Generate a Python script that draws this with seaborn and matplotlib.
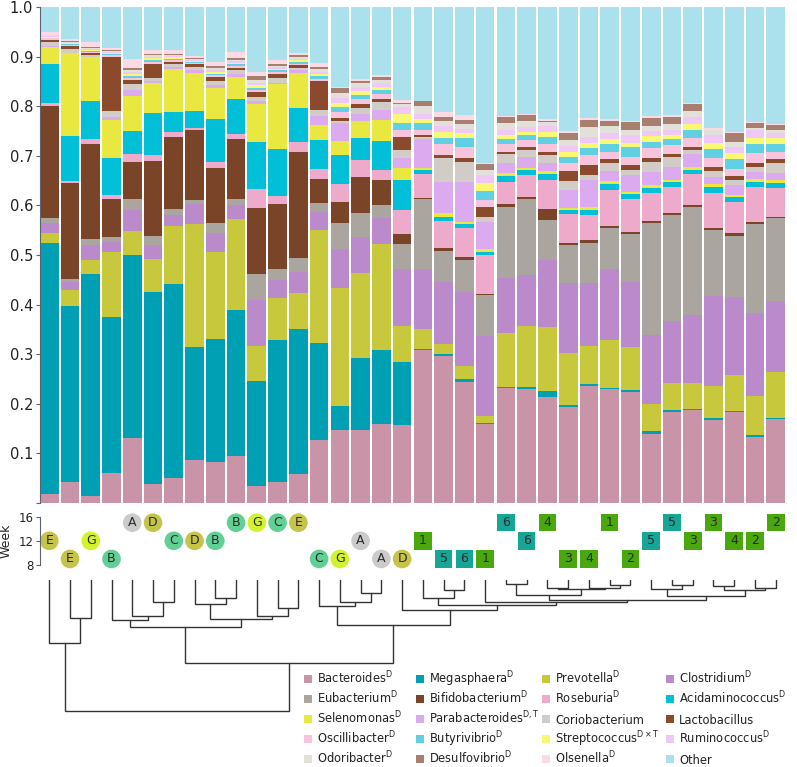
import matplotlib
matplotlib.use("Agg")
import matplotlib.pyplot as plt
import matplotlib.patches as mpatches
import numpy as np
import pandas as pd
import seaborn as sns

sns.set_theme(style="white")
plt.rcParams['font.family'] = ['DejaVu Sans']
plt.rcParams['mathtext.default'] = 'regular'

# ---- data ----
samples = ["S%02d" % (i + 1) for i in range(36)]

bacteroides = [.019,.042,.014,.061,.131,.039,.050,.087,.082,.095,.034,.042,.058,.127,.147,.147,.160,.157,.308,.296,.244,.159,.231,.229,.214,.194,.236,.229,.224,.140,.184,.187,.167,.183,.134,.169]
megasphaera = [.505,.355,.448,.313,.369,.387,.391,.228,.248,.295,.212,.286,.293,.195,.048,.145,.148,.128,.003,.004,.005,.003,.003,.004,.012,.003,.003,.003,.004,.005,.003,.003,.004,.002,.003,.003]
prevotella = [.020,.032,.028,.133,.048,.065,.118,.248,.177,.183,.070,.085,.072,.228,.239,.172,.215,.072,.040,.020,.027,.013,.108,.124,.128,.106,.078,.096,.086,.054,.054,.051,.065,.073,.079,.093]
clostridium = [.021,.017,.030,.019,.043,.029,.022,.039,.037,.027,.094,.036,.043,.037,.079,.073,.051,.114,.121,.126,.150,.161,.111,.102,.136,.141,.126,.143,.132,.140,.126,.138,.181,.158,.168,.143]
eubacterium = [.009,.005,.012,.010,.022,.018,.012,.009,.020,.013,.052,.022,.027,.018,.052,.047,.027,.052,.140,.062,.064,.083,.144,.153,.080,.076,.082,.083,.096,.225,.213,.218,.133,.122,.178,.166]
bifidobacterium = [.226,.195,.192,.076,.074,.151,.144,.141,.111,.121,.133,.132,.215,.048,.042,.074,.050,.020,.002,.007,.005,.003,.006,.005,.022,.005,.005,.004,.005,.004,.005,.003,.005,.006,.005,.003]
roseburia = [.007,.003,.009,.008,.017,.013,.010,.005,.013,.010,.038,.015,.020,.020,.037,.033,.020,.047,.050,.053,.059,.078,.045,.044,.059,.057,.050,.074,.065,.058,.053,.063,.071,.062,.071,.059]
acidaminococcus = [.078,.090,.078,.076,.047,.084,.041,.033,.086,.070,.094,.095,.068,.059,.058,.045,.059,.061,.007,.009,.008,.006,.011,.010,.012,.008,.010,.011,.010,.010,.010,.009,.012,.010,.010,.009]
selenomonas = [.034,.168,.088,.077,.069,.061,.087,.077,.062,.045,.078,.132,.070,.031,.028,.034,.043,.025,.005,.007,.005,.006,.007,.005,.006,.005,.007,.006,.005,.005,.004,.006,.005,.005,.006,.006]
parabacteroides = [.002,.001,.001,.005,.012,.004,.005,.006,.006,.005,.005,.002,.007,.017,.036,.015,.019,.019,.057,.064,.081,.055,.020,.022,.016,.037,.054,.021,.034,.027,.026,.025,.015,.020,.014,.015]
coriobacterium = [.008,.007,.004,.013,.013,.005,.005,.007,.008,.008,.008,.009,.004,.012,.005,.012,.016,.017,.004,.047,.040,.010,.017,.014,.017,.017,.010,.016,.010,.020,.019,.009,.012,.010,.010,.020]
lactobacillus = [.005,.006,.004,.109,.007,.030,.005,.006,.008,.006,.010,.009,.006,.058,.005,.007,.007,.026,.005,.006,.008,.019,.005,.005,.006,.021,.020,.007,.010,.007,.006,.006,.008,.008,.008,.007]
oscillibacter = [.003,.002,.002,.003,.004,.004,.003,.002,.004,.004,.005,.004,.003,.005,.013,.010,.010,.014,.011,.023,.022,.015,.016,.015,.015,.015,.020,.015,.017,.020,.019,.017,.017,.015,.019,.015]
butyrivibrio = [.001,.002,.002,.002,.004,.003,.003,.002,.003,.003,.004,.003,.004,.006,.009,.008,.007,.015,.014,.012,.017,.018,.009,.010,.014,.013,.014,.016,.020,.013,.011,.018,.018,.019,.019,.016]
streptococcus = [.002,.002,.002,.003,.005,.004,.003,.002,.004,.003,.005,.004,.003,.004,.008,.008,.006,.018,.008,.012,.010,.016,.009,.006,.010,.010,.011,.009,.008,.012,.009,.012,.013,.012,.011,.011]
ruminococcus = [.001,.001,.002,.002,.004,.003,.003,.002,.004,.003,.005,.003,.003,.004,.010,.008,.008,.014,.010,.012,.010,.016,.011,.010,.013,.012,.012,.013,.015,.009,.010,.014,.016,.013,.017,.011]
odoribacter = [.002,.002,.002,.002,.003,.003,.002,.002,.004,.003,.006,.003,.003,.005,.010,.008,.007,.005,.015,.010,.010,.010,.014,.012,.009,.012,.020,.014,.012,.011,.012,.011,.010,.010,.005,.007]
desulfovibrio = [.001,.001,.001,.001,.005,.002,.002,.002,.004,.003,.007,.003,.004,.006,.010,.005,.005,.002,.010,.008,.007,.012,.012,.013,.002,.014,.015,.011,.015,.016,.015,.014,.001,.018,.010,.010]
olsenella = [.006,.004,.011,.004,.018,.009,.008,.004,.009,.012,.008,.009,.005,.008,.002,.004,.005,.006,.001,.011,.010,.002,.001,.002,.004,.005,.004,.004,.002,.005,.003,.003,.004,.002,.002,.002]
other = [.050,.065,.070,.083,.105,.086,.086,.098,.110,.091,.132,.106,.092,.112,.162,.145,.137,.188,.189,.211,.218,.315,.220,.215,.225,.249,.223,.225,.230,.219,.218,.193,.243,.252,.231,.235]

taxa = ["Bacteroides", "Megasphaera", "Prevotella", "Clostridium", "Eubacterium",
        "Bifidobacterium", "Roseburia", "Acidaminococcus", "Selenomonas", "Parabacteroides",
        "Coriobacterium", "Lactobacillus", "Oscillibacter", "Butyrivibrio", "Streptococcus",
        "Ruminococcus", "Odoribacter", "Desulfovibrio", "Olsenella", "Other"]
marks = ["D", "D", "D", "D", "D", "D", "D", "D", "D", "D,T",
         "", "", "D", "D", r"D\times T", "D", "D", "D", "D", ""]
colors = ["#c994a8", "#00a0b4", "#c8c83c", "#bb8aca", "#aaa69f",
          "#7a4428", "#eeaacb", "#00bfd6", "#e8e840", "#dcaaee",
          "#d1cdc6", "#8a4a2b", "#f8c4dc", "#60d0e2", "#f8f872",
          "#f0c8f8", "#e3e0da", "#a87e6e", "#fbd9e5", "#abe0ed"]

# week markers under the bars
sample_group = ["E","E","G","B","A","D","C","D","B","B","G","C","E","C","G","A","A","D",
                "1","5","6","1","6","6","4","3","4","1","2","5","5","3","3","4","2","2"]
week_pos = [12,9,12,9,15,15,12,12,12,15,15,15,15,9,9,12,9,9,
            12,9,9,9,15,12,15,9,9,15,9,12,15,12,15,12,12,15]
group_colors = {"A": "#cbcbcb", "B": "#62cf95", "C": "#62cf95", "D": "#c4c44a",
                "E": "#c4c44a", "G": "#d2f22c", "1": "#4aa80e", "2": "#4aa80e",
                "3": "#4aa80e", "4": "#4aa80e", "5": "#17a596", "6": "#17a596"}

# dendrogram merges: (left, right, height); leaves 0..35, new nodes from 36
merges = [(1, 2, 38), (0, 36, 63), (5, 6, 22), (4, 38, 36), (3, 39, 40),
          (8, 9, 18), (7, 41, 24), (11, 12, 28), (10, 43, 36), (42, 44, 39),
          (40, 45, 47), (15, 16, 13), (14, 47, 22), (13, 48, 26), (19, 20, 10),
          (18, 50, 18), (22, 23, 4), (24, 25, 7.5), (27, 28, 5), (26, 54, 7.5),
          (53, 55, 9), (52, 56, 15), (30, 31, 5), (29, 58, 9), (32, 33, 6),
          (34, 35, 8), (60, 61, 10), (59, 62, 16), (57, 63, 20), (21, 64, 22),
          (51, 65, 25), (17, 66, 30), (49, 67, 45), (46, 68, 83), (37, 69, 131)]

abund = pd.DataFrame({
    "Bacteroides": bacteroides, "Megasphaera": megasphaera, "Prevotella": prevotella,
    "Clostridium": clostridium, "Eubacterium": eubacterium, "Bifidobacterium": bifidobacterium,
    "Roseburia": roseburia, "Acidaminococcus": acidaminococcus, "Selenomonas": selenomonas,
    "Parabacteroides": parabacteroides, "Coriobacterium": coriobacterium,
    "Lactobacillus": lactobacillus, "Oscillibacter": oscillibacter, "Butyrivibrio": butyrivibrio,
    "Streptococcus": streptococcus, "Ruminococcus": ruminococcus, "Odoribacter": odoribacter,
    "Desulfovibrio": desulfovibrio, "Olsenella": olsenella, "Other": other}, index=samples)

W, H = 797, 767
fig = plt.figure(figsize=(W / 100, H / 100), dpi=100)
left = 39.5 / W
width = (785.5 - 39.5) / W
xlim = (-0.47, 35.47)

# ---- stacked bars ----
ax = fig.add_axes([left, 1 - 503 / H, width, 496 / H])
bottom = np.zeros(len(samples))
for t, c in zip(taxa, colors):
    vals = abund[t].values
    sns.barplot(x=samples, y=vals, order=samples, color=c, saturation=1, width=0.9,
                bottom=bottom, linewidth=0, errorbar=None, ax=ax)
    bottom = bottom + vals
ax.set_xlim(*xlim)
ax.set_ylim(0, 1)
ax.set_xticks([])
ax.set_xlabel("")
ax.set_ylabel("")
yt = np.round(np.arange(0, 1.01, 0.1), 1)
ax.set_yticks(yt)
ax.set_yticklabels([""] + ["%.1f" % v for v in yt[1:]])
sns.despine(ax=ax, bottom=True)
ax.spines["left"].set_color("#5a6470")
ax.spines["left"].set_linewidth(0.8)
ax.tick_params(axis="y", left=True, length=3, width=0.8, color="#5a6470",
               labelsize=10.5, labelcolor="#222222", pad=1.5)

# ---- week markers ----
axw = fig.add_axes([left, 1 - 570 / H, width, 58 / H])
wk = pd.DataFrame({"x": np.arange(len(samples)), "week": week_pos, "group": sample_group})
wk["shape"] = np.where(wk["group"].str.isdigit(), "square", "circle")
circ = wk[wk["shape"] == "circle"]
sq = wk[wk["shape"] == "square"]
sns.scatterplot(data=circ, x="x", y="week", hue="group", palette=group_colors, marker="o",
                s=180, linewidth=0, legend=False, ax=axw)
sns.scatterplot(data=sq, x="x", y="week", hue="group", palette=group_colors, marker="s",
                s=160, linewidth=0, legend=False, ax=axw)
for _, r in wk.iterrows():
    axw.text(r["x"], r["week"], r["group"], ha="center", va="center", fontsize=9,
             color="#2a2a2a")
axw.set_xlim(*xlim)
axw.set_ylim(7.17, 16.77)
axw.set_xticks([])
axw.set_xlabel("")
axw.set_yticks([8, 12, 16])
axw.set_ylabel("Week", fontsize=9, labelpad=4, color="#222222")
sns.despine(ax=axw, bottom=True)
axw.spines["left"].set_bounds(8, 16)
axw.spines["left"].set_color("#5a6470")
axw.spines["left"].set_linewidth(0.8)
axw.tick_params(axis="y", left=True, length=3, width=0.8, color="#5a6470",
                labelsize=8.5, labelcolor="#222222", pad=1.5)

# ---- dendrogram ----
axd = fig.add_axes([left, 1 - 715 / H, width, 138 / H])
xpos = {i: float(i) for i in range(len(samples))}
hpos = {i: 0.0 for i in range(len(samples))}
for k, (a, b, h) in enumerate(merges):
    node = len(samples) + k
    axd.plot([xpos[a], xpos[a], xpos[b], xpos[b]], [hpos[a], h, h, hpos[b]],
             color="#333333", lw=1.0, solid_joinstyle="miter")
    xpos[node] = (xpos[a] + xpos[b]) / 2
    hpos[node] = h
axd.set_xlim(*xlim)
axd.set_ylim(135, -3)
axd.axis("off")

# ---- legend (4 columns, read across rows) ----
col_x = [304, 416, 542, 666]   # left edge of the colour square, px
row_y0, row_step = 679, 20     # centre of first row, px
for i, (t, c, m) in enumerate(zip(taxa, colors, marks)):
    r, k = divmod(i, 4)
    xs, yc = col_x[k], row_y0 + r * row_step
    fig.add_artist(mpatches.Rectangle((xs / W, 1 - (yc + 4) / H), 8 / W, 8 / H,
                                      transform=fig.transFigure, facecolor=c,
                                      edgecolor="none"))
    lab = t + ("$^{%s}$" % m if m else "")
    fig.text((xs + 13) / W, 1 - (yc + 4.5) / H, lab, fontsize=8.3, ha="left",
             va="baseline", color="#222222")

fig.savefig("out.png", dpi=100)
